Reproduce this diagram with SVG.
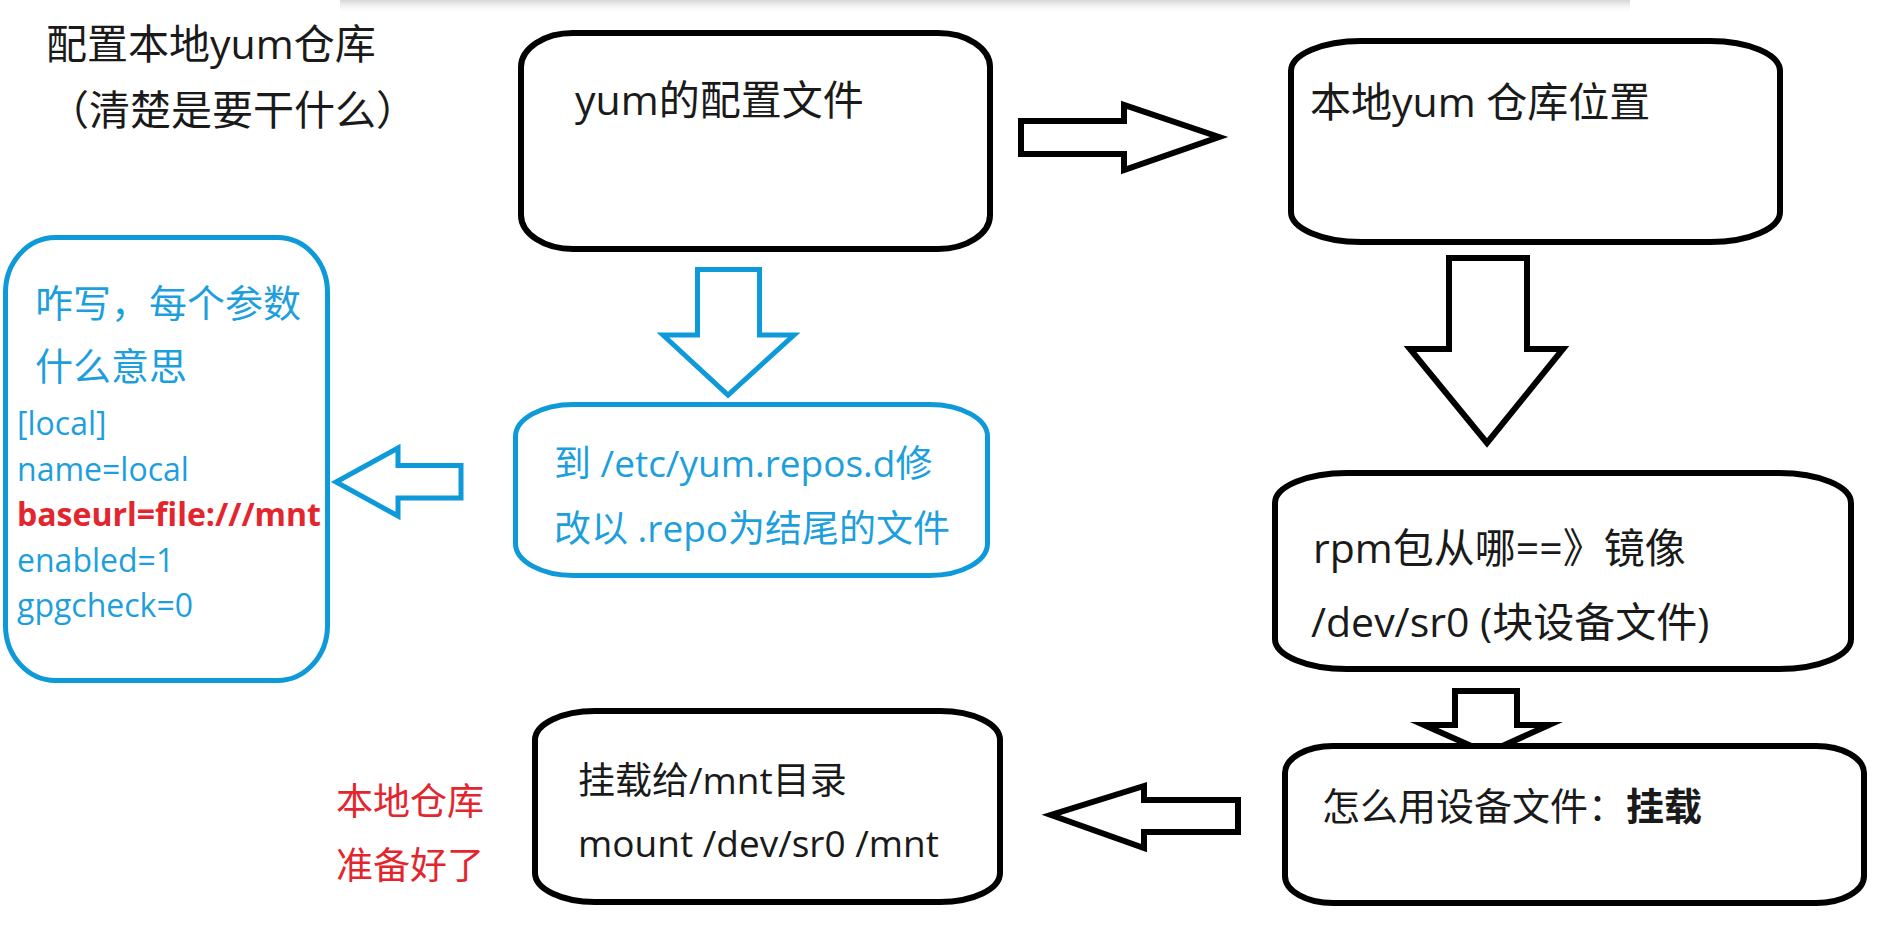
<svg xmlns="http://www.w3.org/2000/svg" width="1903" height="939" viewBox="0 0 1903 939">
  <defs>
    <linearGradient id="shade" x1="0" y1="0" x2="0" y2="1">
      <stop offset="0" stop-color="#d6d6d6"/>
      <stop offset="1" stop-color="#ffffff" stop-opacity="0"/>
    </linearGradient>
    <style>
      text { font-family: "Open Sans", "Noto Sans CJK SC", sans-serif; }
      .box { fill: #ffffff; stroke: #000000; stroke-width: 6; }
      .bbox { fill: #ffffff; stroke: #0e9ad8; stroke-width: 5; }
      .arr { fill: #ffffff; stroke: #000000; stroke-width: 6; stroke-linejoin: miter; stroke-miterlimit: 10; }
      .barr { fill: #ffffff; stroke: #0e9ad8; stroke-width: 5; stroke-linejoin: miter; stroke-miterlimit: 10; }
      .t { fill: #1a1a1a; }
      .tb { fill: #1e9fdd; }
      .tr { fill: #e3262e; }
    </style>
  </defs>
  <rect width="1903" height="939" fill="#ffffff"/>
  <rect x="340" y="0" width="1290" height="14" fill="url(#shade)"/>

  <g id="title">
    <text class="t" x="46" y="59" font-size="41">配置本地yum仓库</text>
    <text class="t" x="48" y="125" font-size="41">（清楚是要干什么）</text>
  </g>

  <g id="connectors">
    <polygon class="arr" points="1021,121 1124,121 1124,105 1219,137 1124,170 1124,154 1021,154"/>
    <polygon class="arr" points="1449,258 1527,258 1527,349 1563,349 1487,443 1410,349 1449,349"/>
    <polygon class="arr" points="1455,691 1517,691 1517,725 1549,725 1487,753 1424,725 1455,725"/>
    <polygon class="arr" points="1238,800 1144,800 1144,786 1051,815 1144,848 1144,832 1238,832"/>
    <polygon class="barr" points="697.5,269.5 759.5,269.5 759.5,335 794,335 728,395 663,335 697.5,335"/>
    <polygon class="barr" points="461,465.5 398,465.5 398,448 336,482 398,516 398,498 461,498"/>
  </g>

  <g id="node-yum-config">
    <rect class="box" x="521" y="33" width="469" height="216" rx="52" ry="34"/>
    <text class="t" x="575" y="115" font-size="41">yum的配置文件</text>
  </g>

  <g id="node-repo-location">
    <rect class="box" x="1291" y="41" width="489" height="201" rx="70" ry="30"/>
    <text class="t" x="1310" y="117" font-size="41">本地yum 仓库位置</text>
  </g>

  <g id="node-rpm-source">
    <rect class="box" x="1275" y="473" width="576" height="196" rx="72" ry="30"/>
    <text class="t" x="1313" y="563" font-size="41">rpm包从哪==》镜像</text>
    <text class="t" x="1311" y="637" font-size="41">/dev/sr0 (块设备文件)</text>
  </g>

  <g id="node-how-to-use">
    <rect class="box" x="1285" y="746" width="579" height="157" rx="48" ry="27"/>
    <text class="t" x="1322" y="820" font-size="38">怎么用设备文件：<tspan font-weight="bold">挂载</tspan></text>
  </g>

  <g id="node-mount">
    <rect class="box" x="535" y="711" width="465" height="191" rx="60" ry="29"/>
    <text class="t" x="578" y="794" font-size="37">挂载给/mnt目录</text>
    <text class="t" x="578" y="857" font-size="37">mount /dev/sr0 /mnt</text>
  </g>

  <g id="note-ready">
    <text class="tr" x="336" y="815" font-size="37">本地仓库</text>
    <text class="tr" x="336" y="879" font-size="37">准备好了</text>
  </g>

  <g id="node-repos-d">
    <rect class="bbox" x="515.5" y="404.5" width="472" height="171" rx="58" ry="32"/>
    <text class="tb" x="554" y="477" font-size="37">到 /etc/yum.repos.d修</text>
    <text class="tb" x="554" y="542" font-size="37">改以 .repo为结尾的文件</text>
  </g>

  <g id="node-repo-file">
    <rect class="bbox" x="5.5" y="237.5" width="322" height="443" rx="50" ry="55"/>
    <text class="tb" x="35" y="317" font-size="38">咋写，每个参数</text>
    <text class="tb" x="35" y="380" font-size="38">什么意思</text>
    <text class="tb" x="17" y="435" font-size="32">[local]</text>
    <text class="tb" x="17" y="481" font-size="32">name=local</text>
    <text class="tr" x="17" y="526" font-size="32" font-weight="bold">baseurl=file:///mnt</text>
    <text class="tb" x="17" y="572" font-size="32">enabled=1</text>
    <text class="tb" x="17" y="617" font-size="32">gpgcheck=0</text>
  </g>
</svg>
